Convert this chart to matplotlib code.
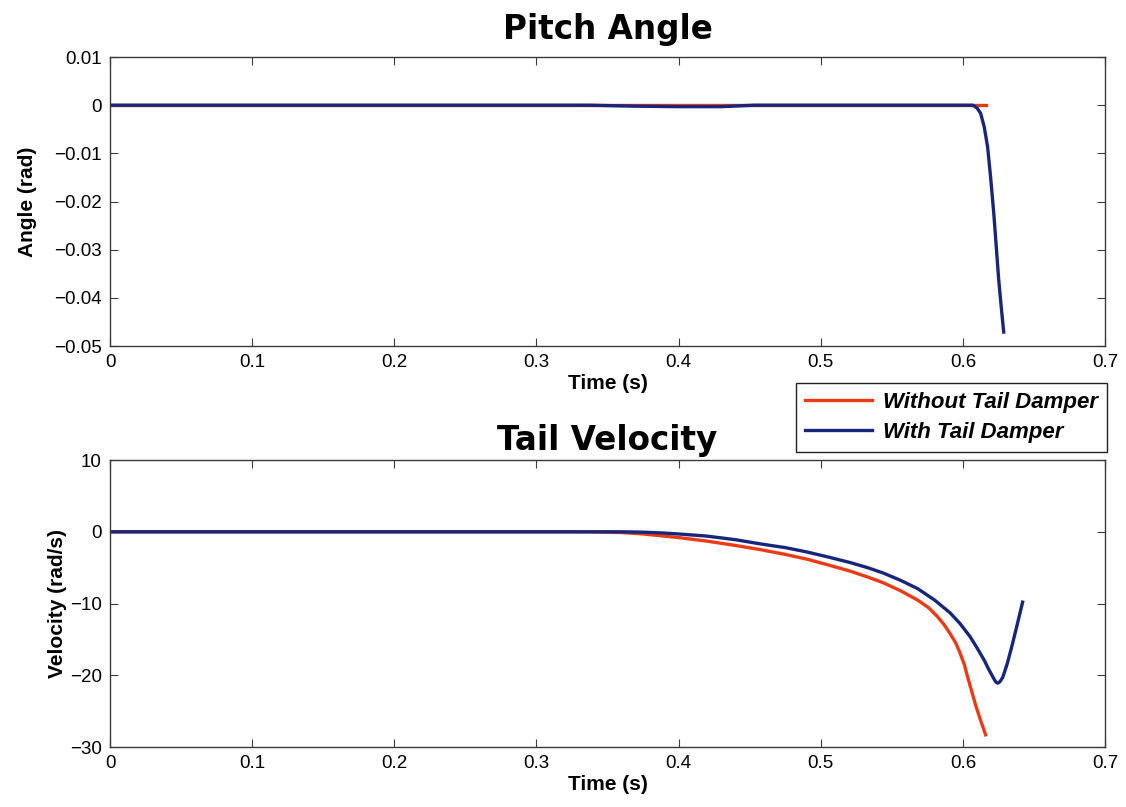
import matplotlib
matplotlib.use("Agg")
import matplotlib.pyplot as plt

# pitch angle (rad)
pitch_t_without = [0.0, 0.30, 0.45, 0.60, 0.616]
pitch_without = [0.0, 0.0, 0.0, 0.0, 0.0]
pitch_t_with = [0.0, 0.30, 0.338, 0.37, 0.40, 0.43, 0.453, 0.50, 0.60, 0.607,
                0.6100, 0.6125, 0.6150, 0.6174, 0.6195, 0.6217, 0.6235, 0.6252,
                0.6270, 0.6287]
pitch_with = [0.0, 0.0, 0.0, -0.0002, -0.0003, -0.0003, 0.0, 0.0, 0.0, 0.0,
              -0.0006, -0.0017, -0.0045, -0.0087, -0.0150, -0.0224, -0.0295,
              -0.0363, -0.0420, -0.0471]

# tail velocity (rad/s)
vel_t_without = [0.0, 0.30, 0.33, 0.345, 0.36, 0.375, 0.3875, 0.40, 0.42, 0.44,
                 0.458, 0.475, 0.49, 0.505, 0.521, 0.533, 0.544, 0.556, 0.568,
                 0.576, 0.582, 0.587, 0.591, 0.595, 0.598, 0.601, 0.603, 0.606,
                 0.609, 0.6125, 0.616]
vel_without = [0.0, 0.0, 0.0, -0.03, -0.1, -0.3, -0.55, -0.8, -1.3, -1.9,
               -2.5, -3.15, -3.8, -4.6, -5.5, -6.3, -7.1, -8.2, -9.5,
               -10.6, -11.8, -13.0, -14.2, -15.5, -16.9, -18.5, -20.0, -22.1,
               -24.2, -26.3, -28.3]
vel_t_with = [0.0, 0.30, 0.36, 0.375, 0.3875, 0.40, 0.42, 0.44, 0.458, 0.475,
              0.49, 0.505, 0.521, 0.533, 0.544, 0.556, 0.568, 0.58, 0.591,
              0.598, 0.605, 0.61, 0.615, 0.618, 0.621, 0.623, 0.6245, 0.626,
              0.628, 0.631, 0.634, 0.638, 0.642]
vel_with = [0.0, 0.0, 0.0, -0.05, -0.15, -0.3, -0.6, -1.1, -1.7, -2.2,
            -2.8, -3.5, -4.3, -5.0, -5.75, -6.75, -7.9, -9.5, -11.3,
            -12.8, -14.6, -16.2, -17.9, -19.1, -20.2, -20.9, -21.1, -20.9,
            -20.3, -18.5, -16.3, -13.1, -9.8]

RED = "#ec3b14"
BLUE = "#17267a"

plt.rcParams["font.family"] = ["Liberation Sans", "DejaVu Sans"]

fig = plt.figure(figsize=(11.26, 8.07), dpi=100)
ax1 = fig.add_axes([0.0977, 0.5712, 0.8837, 0.3581])
ax2 = fig.add_axes([0.0977, 0.0743, 0.8837, 0.3556])


def style(ax):
    for sp in ax.spines.values():
        sp.set_color("#3a3a3a")
        sp.set_linewidth(1.0)
    ax.tick_params(direction="in", top=True, right=True, length=6,
                   width=0.8, color="#3a3a3a", labelsize=13.5, pad=6)
    ax.set_xlim(0, 0.7)
    ax.set_xticks([0, 0.1, 0.2, 0.3, 0.4, 0.5, 0.6, 0.7])
    ax.set_xticklabels(["0", "0.1", "0.2", "0.3", "0.4", "0.5", "0.6", "0.7"])
    ax.set_xlabel("Time (s)", fontsize=15, fontweight="bold", labelpad=2)


ax1.plot(pitch_t_without, pitch_without, color=RED, lw=2.4,
         label="Without Tail Damper")
ax1.plot(pitch_t_with, pitch_with, color=BLUE, lw=2.4,
         label="With Tail Damper")
style(ax1)
ax1.set_ylim(-0.05, 0.01)
ax1.set_yticks([0.01, 0, -0.01, -0.02, -0.03, -0.04, -0.05])
ax1.set_yticklabels(["0.01", "0", "\u22120.01", "\u22120.02", "\u22120.03",
                     "\u22120.04", "\u22120.05"])
ax1.set_ylabel("Angle (rad)", fontsize=15, fontweight="bold")
ax1.yaxis.set_label_coords(-0.073, 0.5)
ax1.set_title("Pitch Angle", fontsize=23.5, fontweight="bold",
              family="DejaVu Sans", pad=13)

ax2.plot(vel_t_without, vel_without, color=RED, lw=2.4)
ax2.plot(vel_t_with, vel_with, color=BLUE, lw=2.4)
style(ax2)
ax2.set_ylim(-30, 10)
ax2.set_yticks([10, 0, -10, -20, -30])
ax2.set_yticklabels(["10", "0", "\u221210", "\u221220", "\u221230"])
ax2.set_ylabel("Velocity (rad/s)", fontsize=15, fontweight="bold")
ax2.yaxis.set_label_coords(-0.043, 0.5)
ax2.set_title("Tail Velocity", fontsize=23.5, fontweight="bold",
              family="DejaVu Sans", pad=7)

leg = fig.legend(loc="upper right", bbox_to_anchor=(0.983, 0.5254),
                 fancybox=False, framealpha=1, edgecolor="#222222",
                 borderaxespad=0, handlelength=3.0, borderpad=0.4,
                 labelspacing=0.4, handletextpad=0.5,
                 prop={"family": "Liberation Sans", "weight": "bold",
                       "style": "italic", "size": 16})
leg.get_frame().set_linewidth(1.0)

fig.savefig("out.png", dpi=100)
